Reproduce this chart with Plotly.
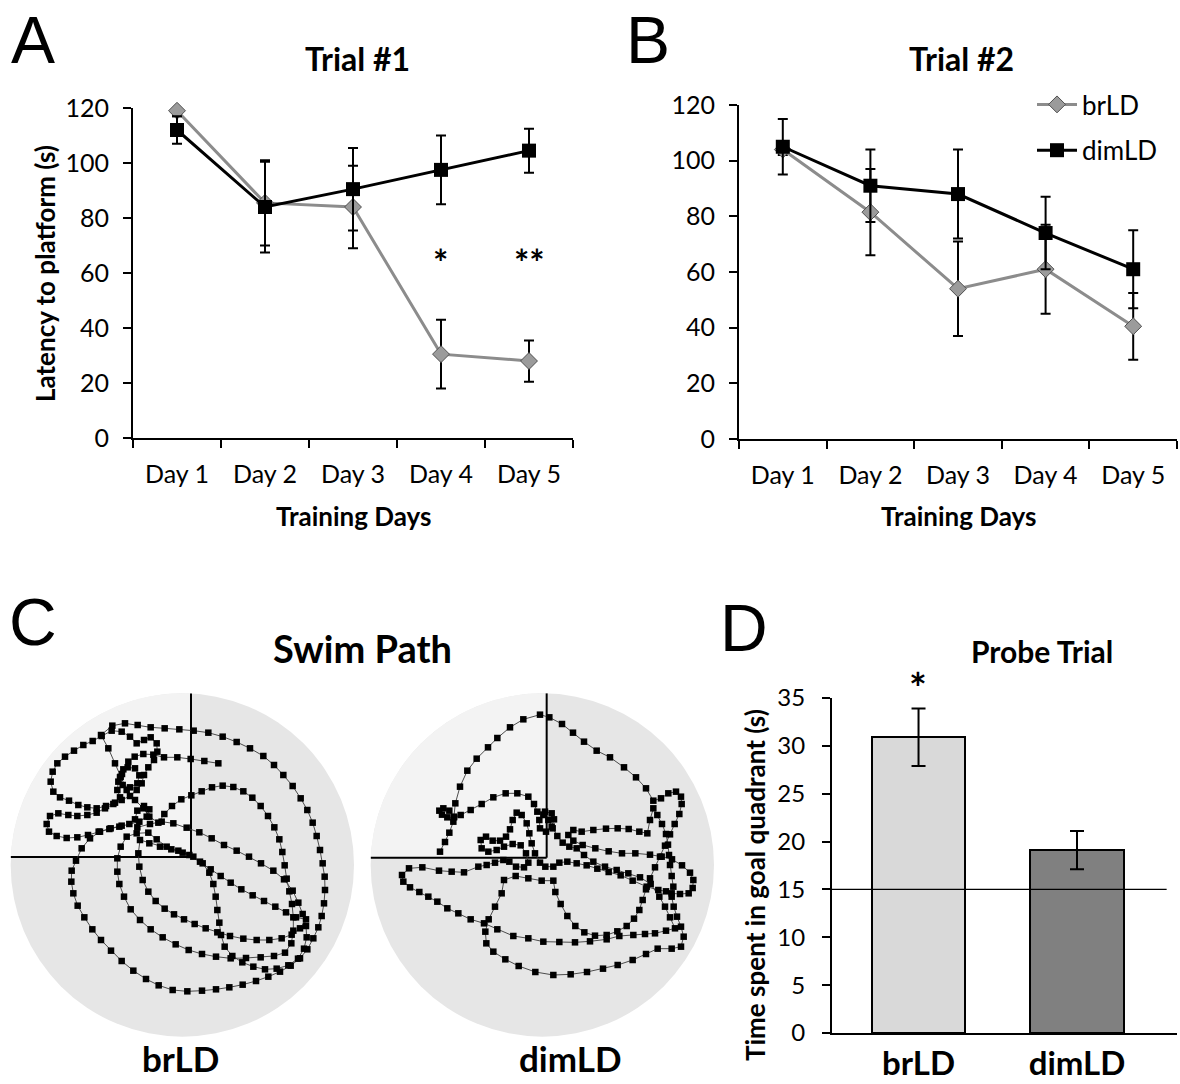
import numpy as np
import plotly.graph_objects as go

W, H = 1180, 1084
FONT = "Lato"

# ---------------- data ----------------
days = ["Day 1", "Day 2", "Day 3", "Day 4", "Day 5"]
latency_ticks = [0, 20, 40, 60, 80, 100, 120]

t1_brld = [119, 85.5, 84, 30.5, 28]
t1_brld_err = [2, 15.5, 15, 12.5, 7.5]
t1_dimld = [112, 84, 90.5, 97.5, 104.5]
t1_dimld_err = [5, 16.5, 15, 12.5, 8]

t2_brld = [104, 81.5, 54, 61, 40.5]
t2_brld_err = [2, 15.5, 17, 16, 12]
t2_dimld = [105, 91, 88, 74, 61]
t2_dimld_err = [10, 13, 16, 13, 14]

groups = ["brLD", "dimLD"]
probe_time = [30.9, 19.1]
probe_err = [3.0, 2.0]
chance_level = 15
probe_ticks = [0, 5, 10, 15, 20, 25, 30, 35]

# swim paths (tracker coordinates, y downward)
brld_path = [
    (655, 250), (613, 243), (572, 237), (532, 232), (492, 232), (460, 224),
    (430, 222), (404, 230), (385, 245), (370, 268), (360, 292), (368, 315), (390, 322), (412, 310), (418, 286),
    (405, 265), (383, 262), (366, 282), (355, 305), (352, 330), (360, 352),
    (345, 368), (318, 378), (290, 385), (262, 382), (235, 375), (207, 362), (180, 352), (160, 335), (152, 305),
    (158, 275), (172, 250), (195, 230), (222, 212), (250, 195), (278, 183),
    (305, 168), (335, 152), (365, 155), (390, 170), (410, 190), (432, 180), (452, 172), (470, 190), (472, 215),
    (462, 240), (445, 262), (432, 285), (425, 310),
    (410, 330), (390, 348), (365, 360), (340, 372), (315, 385), (290, 398), (262, 405), (232, 408), (205, 405),
    (175, 400), (150, 408), (140, 432), (147, 455), (170, 468), (200, 474), (232, 472), (264, 465), (296, 455),
    (328, 447), (358, 440), (388, 432), (418, 425),
    (440, 410), (448, 388), (432, 378), (412, 392), (405, 418), (412, 442),
    (450, 432), (485, 425), (520, 430), (560, 443), (598, 457), (635, 475), (672, 495), (710, 512), (747, 530),
    (783, 550), (820, 572), (852, 598), (878, 632), (895, 668), (908, 702), (918, 738), (920, 772), (912, 806),
    (894, 836), (865, 856), (830, 866), (795, 868), (760, 860), (727, 847), (697, 828), (674, 800), (663, 765),
    (658, 728), (652, 690), (647, 650), (640, 612), (628, 578), (608, 550), (580, 530), (548, 518), (514, 508),
    (480, 500), (448, 490), (420, 480),
    (415, 520), (418, 560), (428, 600), (445, 635), (467, 663), (494, 686), (522, 703), (552, 718), (584, 732),
    (617, 745), (652, 757), (690, 768), (730, 776), (770, 780), (808, 780), (845, 775), (875, 764), (900, 745),
    (918, 718),
    (888, 712), (858, 697), (826, 680), (792, 663), (758, 646), (724, 628), (692, 608), (662, 588), (632, 568),
    (600, 545), (568, 525), (535, 512), (500, 500), (470, 478), (445, 458),
    (410, 460), (380, 470), (362, 500), (352, 535), (352, 575), (358, 612), (372, 650), (392, 688), (420, 720),
    (452, 748), (488, 772), (527, 793), (566, 810), (606, 822), (648, 830), (692, 835), (738, 834), (782, 832),
    (822, 828), (855, 818), (874, 790), (880, 752), (880, 712), (876, 672), (868, 634), (860, 596), (854, 556),
    (847, 516), (838, 478), (823, 442), (804, 408), (782, 378), (757, 353), (730, 334), (700, 321), (668, 317),
    (636, 322), (605, 334), (574, 346), (544, 358), (516, 378), (493, 402), (475, 428),
    (448, 410), (430, 385), (405, 360), (380, 330), (362, 290), (345, 250), (325, 205), (303, 165),
    (337, 137), (375, 130), (413, 135), (452, 142), (494, 145), (538, 148), (581, 152), (625, 158), (668, 170),
    (710, 186), (750, 205), (790, 228), (822, 255), (850, 285), (878, 318), (902, 355), (922, 390), (938, 428),
    (950, 468), (960, 510), (968, 550), (974, 590), (975, 630), (972, 670), (965, 708), (955, 742), (940, 775),
    (922, 808), (900, 835), (872, 857), (840, 875), (805, 890), (768, 903), (728, 914), (688, 922), (648, 928),
    (606, 932), (562, 934), (518, 930), (476, 916), (438, 897), (400, 872), (365, 843), (333, 812), (303, 780),
    (277, 748), (253, 712), (233, 677), (220, 640), (214, 605), (215, 572), (228, 542), (245, 505), (270, 475),
    (300, 455), (332, 445), (365, 437),
]

dimld_path = [
    (240, 515), (255, 486), (268, 458), (280, 425), (286, 370), (300, 320), (322, 272), (350, 236), (384, 202),
    (412, 174), (450, 142), (490, 118), (540, 104), (568, 112), (606, 132), (639, 158), (672, 185), (710, 212),
    (750, 232), (792, 262), (828, 292), (858, 325), (880, 362), (903, 355), (925, 340), (948, 335), (963, 350),
    (965, 372), (958, 402), (944, 432), (930, 463), (915, 497), (900, 530), (885, 562), (870, 595), (858, 628),
    (848, 660), (838, 690), (822, 716), (800, 738), (772, 754), (740, 765), (705, 767), (673, 757), (646, 738),
    (622, 708), (602, 672), (586, 636), (580, 602),
    (545, 602), (505, 595), (467, 588), (432, 600), (425, 640), (405, 680), (386, 718), (376, 755), (379, 790),
    (400, 815), (436, 838), (476, 858), (526, 876), (580, 885), (632, 883), (681, 876), (729, 866), (773, 855),
    (818, 840), (858, 822), (893, 806), (935, 806), (963, 800), (971, 770), (963, 740), (951, 710), (941, 680),
    (935, 650), (940, 620), (935, 588), (930, 555), (927, 525), (924, 494), (918, 462), (906, 432), (892, 405),
    (880, 385),
    (870, 420), (862, 460), (838, 455), (806, 447), (773, 445), (738, 446), (700, 450), (665, 455), (640, 450),
    (625, 465), (640, 482), (668, 495), (706, 505), (746, 514), (786, 520), (826, 520), (870, 524), (905, 530),
    (936, 538), (966, 556), (990, 578), (1000, 600), (998, 624), (986, 640), (960, 642), (935, 640), (918, 634),
    (895, 630), (860, 620), (818, 602), (782, 586), (746, 576), (712, 566), (680, 556), (650, 550), (622, 545),
    (598, 548), (580, 560),
    (556, 560), (540, 548), (525, 520), (515, 490), (508, 460), (500, 430), (485, 405), (470, 398), (458, 420),
    (450, 448), (438, 470), (420, 482), (398, 482), (378, 470), (362, 480), (365, 505), (385, 515), (410, 510),
    (432, 500), (458, 492), (482, 496), (498, 520), (505, 548), (492, 562), (468, 560), (448, 545), (430, 540),
    (405, 548), (380, 555), (355, 560),
    (312, 577), (275, 575), (237, 572), (187, 562), (147, 565), (126, 585), (130, 605), (150, 622), (178, 636),
    (205, 650), (232, 665), (262, 685), (295, 700), (332, 718), (372, 730), (412, 748), (460, 768), (505, 775),
    (550, 785), (598, 786), (645, 787), (690, 784), (740, 778), (778, 768), (820, 765), (855, 762), (885, 760),
    (918, 752), (945, 745),
    (930, 712), (915, 680), (898, 650), (872, 612), (840, 592), (805, 580), (770, 570), (735, 560), (700, 545),
    (672, 525), (650, 505), (628, 500), (608, 488), (592, 468), (578, 445), (565, 420), (550, 405), (538, 420),
    (540, 445), (558, 455), (575, 440), (582, 418), (575, 400), (555, 395), (532, 395),
    (522, 372), (505, 350), (472, 340), (437, 340), (400, 352), (365, 372), (332, 390), (302, 405), (282, 412),
    (262, 412), (246, 404), (238, 392), (250, 385), (268, 392), (282, 410),
]

# ---------------- geometry helpers ----------------
def px(x):
    return x / W

def py(y):
    return 1 - y / H

arena_center = (547, 555)
arena_radius = 515
cross_left = (573, 531)
cross_right = (560, 533)

fig = go.Figure()

GRAY_LINE = "#8c8c8c"
diamond = dict(symbol="diamond", size=13, color="#9b9b9b", line=dict(color="#505050", width=1))
square = dict(symbol="square", size=14, color="black")
err = lambda arr: dict(type="data", array=arr, color="black", thickness=2, width=5)

# Panel A
fig.add_trace(go.Scatter(x=days, y=t1_brld, mode="lines+markers", line=dict(color=GRAY_LINE, width=3),
                         marker=diamond, error_y=err(t1_brld_err), xaxis="x", yaxis="y",
                         showlegend=False, cliponaxis=False))
fig.add_trace(go.Scatter(x=days, y=t1_dimld, mode="lines+markers", line=dict(color="black", width=3),
                         marker=square, error_y=err(t1_dimld_err), xaxis="x", yaxis="y",
                         showlegend=False, cliponaxis=False))
# Panel B
fig.add_trace(go.Scatter(x=days, y=t2_brld, mode="lines+markers", line=dict(color=GRAY_LINE, width=3),
                         marker=diamond, error_y=err(t2_brld_err), xaxis="x2", yaxis="y2",
                         name="brLD", legendgroup="g1", cliponaxis=False))
fig.add_trace(go.Scatter(x=days, y=t2_dimld, mode="lines+markers", line=dict(color="black", width=3),
                         marker=square, error_y=err(t2_dimld_err), xaxis="x2", yaxis="y2",
                         name="dimLD", legendgroup="g2", cliponaxis=False))

# Panel C swim paths
for path, xa, ya in [(brld_path, "x3", "y3"), (dimld_path, "x4", "y4")]:
    xs = [p[0] for p in path]
    ys = [p[1] for p in path]
    fig.add_trace(go.Scatter(x=xs, y=ys, mode="lines+markers", line=dict(color="#3a3a3a", width=0.9),
                             marker=dict(symbol="square", size=6.5, color="black"),
                             xaxis=xa, yaxis=ya, showlegend=False, cliponaxis=False))

# Panel D
fig.add_trace(go.Bar(x=groups, y=probe_time, width=0.587,
                     marker=dict(color=["#d9d9d9", "#808080"], line=dict(color="black", width=2)),
                     error_y=dict(type="data", array=probe_err, color="black", thickness=2, width=7),
                     xaxis="x5", yaxis="y5", showlegend=False))

# ---------------- axes ----------------
TICKFONT = dict(family=FONT, size=25, color="black")
axis_common = dict(showgrid=False, zeroline=False, showline=True, linecolor="black", linewidth=2,
                   ticks="outside", tickcolor="black", tickwidth=2, ticklen=8, automargin=False,
                   tickfont=TICKFONT, fixedrange=True)
hidden = dict(visible=False, fixedrange=True, automargin=False)

layout = dict(
    width=W, height=H, margin=dict(l=0, r=0, t=0, b=0, pad=0, autoexpand=False),
    paper_bgcolor="white", plot_bgcolor="rgba(0,0,0,0)",
    font=dict(family=FONT, color="black"),
    xaxis=dict(**axis_common, domain=[px(133), px(573)], range=[-0.5, 4.5], anchor="y",
               type="category", tickson="boundaries", ticklabelstandoff=13),
    yaxis=dict(**axis_common, domain=[py(438), py(108)], range=[0, 120], anchor="x",
               tickvals=latency_ticks, ticklabelstandoff=9),
    xaxis2=dict(**axis_common, domain=[px(739), px(1177)], range=[-0.5, 4.5], anchor="y2",
                type="category", tickson="boundaries", ticklabelstandoff=13),
    yaxis2=dict(**axis_common, domain=[py(439), py(105)], range=[0, 120], anchor="x2",
                tickvals=latency_ticks, ticklabelstandoff=9),
    xaxis3=dict(**hidden, domain=[0, px(360)], range=[0, 1080], anchor="y3"),
    yaxis3=dict(**hidden, domain=[py(1060), py(680)], range=[1140, 0], anchor="x3"),
    xaxis4=dict(**hidden, domain=[px(360), px(720)], range=[0, 1080], anchor="y4"),
    yaxis4=dict(**hidden, domain=[py(1060), py(680)], range=[1140, 0], anchor="x4"),
    xaxis5=dict(**{**axis_common, "ticks": "", "tickfont": dict(family=FONT, size=33, color="black")},
                domain=[px(832), px(1177)], range=[-0.546, 1.631],
                anchor="y5", type="category", tickvals=groups,
                ticktext=["<b>brLD</b>", "<b>dimLD</b>"], ticklabelstandoff=0),
    yaxis5=dict(**{**axis_common, "tickfont": dict(family=FONT, size=24, color="black")},
                domain=[py(1033), py(698)], range=[0, 35], anchor="x5",
                tickvals=probe_ticks, ticklabelstandoff=12),
    legend=dict(x=px(1032), y=py(81), xanchor="left", yanchor="top", bgcolor="rgba(0,0,0,0)",
                font=dict(family=FONT, size=26, color="black"), tracegroupgap=9, itemwidth=40),
    bargap=0,
)
fig.update_layout(**layout)

# ---------------- arena shapes ----------------
shapes = []
cx, cy = arena_center
r = arena_radius
for (qx, qy), xr, yr in [(cross_left, "x3", "y3"), (cross_right, "x4", "y4")]:
    shapes.append(dict(type="circle", xref=xr, yref=yr, x0=cx - r, x1=cx + r, y0=cy - r, y1=cy + r,
                       fillcolor="#e6e6e6", line=dict(width=0), layer="below"))
    top = (qx, cy - np.sqrt(r ** 2 - (qx - cx) ** 2))
    left = (cx - np.sqrt(r ** 2 - (qy - cy) ** 2), qy)
    a0 = np.arctan2(top[1] - cy, top[0] - cx)
    a1 = np.arctan2(left[1] - cy, left[0] - cx)
    if a1 > a0:
        a1 -= 2 * np.pi
    angs = np.linspace(a0, a1, 60)
    d = f"M {qx},{qy} L {top[0]:.1f},{top[1]:.1f} "
    d += " ".join(f"L {cx + r*np.cos(a):.1f},{cy + r*np.sin(a):.1f}" for a in angs)
    d += f" L {left[0]:.1f},{left[1]:.1f} Z"
    shapes.append(dict(type="path", path=d, xref=xr, yref=yr, fillcolor="#f3f3f3",
                       line=dict(width=0), layer="below"))
    shapes.append(dict(type="line", xref=xr, yref=yr, x0=qx, x1=qx, y0=top[1], y1=qy,
                       line=dict(color="black", width=2), layer="below"))
    shapes.append(dict(type="line", xref=xr, yref=yr, x0=left[0], x1=qx, y0=qy, y1=qy,
                       line=dict(color="black", width=2), layer="below"))

shapes.append(dict(type="line", xref="x5 domain", yref="y5", x0=0, x1=0.97, y0=chance_level, y1=chance_level,
                   line=dict(color="black", width=1.2), layer="above"))
fig.update_layout(shapes=shapes)

# ---------------- text ----------------
def ann(text, x, y, size, bold=False, family=FONT, angle=0):
    return dict(text=f"<b>{text}</b>" if bold else text, x=px(x), y=py(y), xref="paper", yref="paper",
                showarrow=False, xanchor="center", yanchor="middle", textangle=angle,
                font=dict(family=family, size=size, color="black"))

LET = "Liberation Sans"
annotations = [
    ann("A", 33, 40, 66, family=LET),
    ann("B", 648, 40, 66, family=LET),
    ann("C", 33, 622, 66, family=LET),
    ann("D", 744, 628, 66, family=LET),
    ann("Trial #1", 357, 59, 32, bold=True),
    ann("Trial #2", 961, 59, 32, bold=True),
    ann("Latency to platform (s)", 45, 274, 26, bold=True, angle=-90),
    ann("Training Days", 353, 516, 26, bold=True),
    ann("Training Days", 958, 516, 26, bold=True),
    ann("*", 440, 262, 36, bold=True),
    ann("**", 529, 262, 36, bold=True),
    ann("Swim Path", 362, 648, 38, bold=True),
    ann("brLD", 180, 1058, 35, bold=True),
    ann("dimLD", 570, 1058, 35, bold=True),
    ann("Probe Trial", 1042, 651, 30, bold=True),
    ann("*", 918, 688, 42, bold=True),
    ann("Time spent in goal quadrant (s)", 755, 885, 26, bold=True, angle=-90),
]
fig.update_layout(annotations=annotations)

fig.write_html("out.html", config={"displayModeBar": False},
               post_script="document.body.style.margin='0';document.body.style.padding='0';"
                           "document.documentElement.style.overflow='hidden';")
